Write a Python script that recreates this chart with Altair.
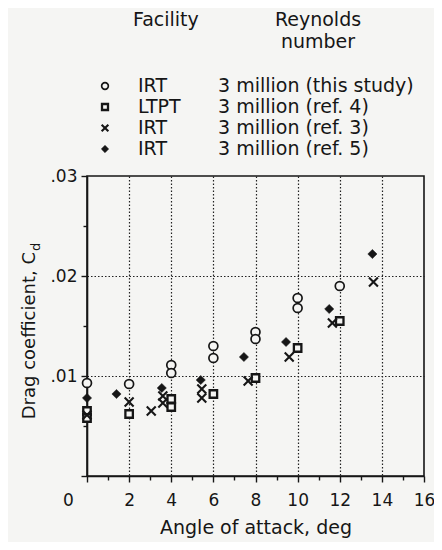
import altair as alt
import pandas as pd

# ---------------- data ----------------
series_names = ["IRT this study", "LTPT ref 4", "IRT ref 3", "IRT ref 5"]
facility_labels = ["IRT", "LTPT", "IRT", "IRT"]
reynolds_labels = ["3 million (this study)", "3 million (ref. 4)",
                   "3 million (ref. 3)", "3 million (ref. 5)"]
header_facility = "Facility"
header_reynolds = ["Reynolds", "number"]
x_title = "Angle of attack, deg"
y_title_main = "Drag coefficient, C"
y_title_sub = "d"

circle_alpha = [0, 2, 4, 4, 6, 6, 8, 8, 10, 10, 12]
circle_cd = [0.0093, 0.0092, 0.0111, 0.0103, 0.0130, 0.0118, 0.0144, 0.0137, 0.0178, 0.0168, 0.0190]
square_alpha = [0, 0, 2, 4, 4, 6, 8, 10, 12]
square_cd = [0.0065, 0.0058, 0.0062, 0.0077, 0.0069, 0.0082, 0.0098, 0.0128, 0.0155]
cross_alpha = [0, 2, 3.05, 3.6, 3.6, 5.45, 5.45, 7.65, 9.6, 11.65, 13.6]
cross_cd = [0.0061, 0.0074, 0.0065, 0.0080, 0.0073, 0.0087, 0.0078, 0.0095, 0.0119, 0.0153, 0.0194]
diamond_alpha = [0, 1.4, 3.55, 5.4, 7.45, 9.45, 11.5, 13.55]
diamond_cd = [0.0078, 0.0082, 0.0088, 0.0096, 0.0119, 0.0134, 0.0167, 0.0222]

x_tick_values = list(range(0, 17))
y_tick_values = [0, 0.005, 0.01, 0.015, 0.02, 0.025, 0.03]

# ---------------- tables ----------------
rows = []
for name, al, cd in zip(series_names,
                        [circle_alpha, square_alpha, cross_alpha, diamond_alpha],
                        [circle_cd, square_cd, cross_cd, diamond_cd]):
    rows += [{"series": name, "alpha": a, "cd": c} for a, c in zip(al, cd)]
df = pd.DataFrame(rows)
leg = pd.DataFrame({"series": series_names, "facility": facility_labels,
                    "reynolds": reynolds_labels})

# ---------------- style ----------------
FONT = "DejaVu Sans"
INK = "#161616"
BG = "#f5f5f3"
XPATH = "M-1,-1L1,1M1,-1L-1,1"

x_axis = alt.Axis(
    values=x_tick_values, title=x_title,
    labelExpr="datum.value % 2 == 0 ? datum.label : ''",
    labelOverlap=False, labelFlush=False,
    labelOffset={"condition": {"test": "datum.value == 0", "value": -19}, "value": 0},
    tickSize={"condition": {"test": "datum.value % 2 == 1", "value": 4}, "value": 6},
    grid=True,
    gridOpacity={"condition": {"test": "datum.value % 2 == 1 || datum.value == 0 || datum.value == 16",
                               "value": 0}, "value": 1},
    gridDash=[1.5, 2], gridColor="#222", gridWidth=1.2,
    domainColor=INK, domainWidth=1.6, tickColor=INK, tickWidth=1.4,
    labelFont=FONT, labelFontSize=17, labelColor=INK, labelPadding=10,
    titleFont=FONT, titleFontSize=19, titleFontWeight="normal", titleColor=INK, titlePadding=10,
)
y_axis = alt.Axis(
    values=y_tick_values, title=None, format=".2f",
    labelExpr="(datum.value == 0.01 || datum.value == 0.02 || datum.value == 0.03) ? replace(datum.label, '0.', '.') : ''",
    labelOverlap=False, labelFlush=False,
    tickSize={"condition": {"test": "datum.value == 0.005 || datum.value == 0.015 || datum.value == 0.025",
                            "value": 4}, "value": 6},
    grid=True,
    gridOpacity={"condition": {"test": "datum.value == 0.01 || datum.value == 0.02", "value": 1}, "value": 0},
    gridDash=[1.5, 2], gridColor="#222", gridWidth=1.2,
    domainColor=INK, domainWidth=1.6, tickColor=INK, tickWidth=1.4,
    labelFont=FONT, labelFontSize=17, labelColor=INK, labelPadding=4,
)
x_enc = alt.X("alpha:Q", scale=alt.Scale(domain=[0, 16], nice=False, zero=False), axis=x_axis)
y_enc = alt.Y("cd:Q", scale=alt.Scale(domain=[0, 0.03], nice=False), axis=y_axis)

styles = {
    series_names[0]: dict(shape="circle", size=80, filled=True, fill=BG, stroke=INK, strokeWidth=1.7),
    series_names[1]: dict(shape="square", size=56, filled=True, fill=BG, stroke=INK, strokeWidth=2.3),
    series_names[2]: dict(shape=XPATH, size=80, filled=False, stroke=INK, strokeWidth=2.1),
    series_names[3]: dict(shape="diamond", size=85, filled=True, fill=INK, stroke=INK, strokeWidth=0.5),
}
legend_sizes = {series_names[0]: 45, series_names[1]: 36, series_names[2]: 45, series_names[3]: 55}

data_layers = []
for name in series_names:
    data_layers.append(
        alt.Chart(df).transform_filter(alt.datum.series == name)
        .mark_point(opacity=1, **styles[name])
        .encode(x=x_enc, y=y_enc)
    )
data_part = alt.layer(*data_layers)

y_leg = alt.Y("series:N", scale=alt.Scale(type="point", domain=series_names, range=[-90, -27], padding=0),
              axis=None)
legend_layers = []
for name in series_names:
    st = dict(styles[name])
    st["size"] = legend_sizes[name]
    legend_layers.append(
        alt.Chart(leg).transform_filter(alt.datum.series == name)
        .mark_point(opacity=1, **st)
        .encode(x=alt.value(18), y=y_leg)
    )
text_style = dict(font=FONT, fontSize=19, color=INK, baseline="middle")
legend_layers.append(
    alt.Chart(leg).mark_text(align="left", **text_style)
    .encode(x=alt.value(51), y=y_leg, text="facility:N"))
legend_layers.append(
    alt.Chart(leg).mark_text(align="left", **text_style)
    .encode(x=alt.value(131), y=y_leg, text="reynolds:N"))
legend_layers.append(
    alt.Chart(pd.DataFrame({"t": [header_facility]})).mark_text(align="left", **text_style)
    .encode(x=alt.value(46), y=alt.value(-156), text="t:N"))
legend_layers.append(
    alt.Chart(pd.DataFrame({"t": [header_reynolds[0]]})).mark_text(align="center", **text_style)
    .encode(x=alt.value(231), y=alt.value(-156), text="t:N"))
legend_layers.append(
    alt.Chart(pd.DataFrame({"t": [header_reynolds[1]]})).mark_text(align="center", **text_style)
    .encode(x=alt.value(231), y=alt.value(-134), text="t:N"))
# y axis title with subscript
legend_layers.append(
    alt.Chart(pd.DataFrame({"t": [y_title_main]})).mark_text(
        align="right", angle=270, font=FONT, fontSize=18, color=INK, baseline="middle")
    .encode(x=alt.value(-57), y=alt.value(76), text="t:N"))
legend_layers.append(
    alt.Chart(pd.DataFrame({"t": [y_title_sub]})).mark_text(
        align="left", angle=270, font=FONT, fontSize=13, color=INK, baseline="middle")
    .encode(x=alt.value(-51), y=alt.value(75), text="t:N"))
legend_part = alt.layer(*legend_layers)

chart = (
    alt.layer(data_part, legend_part)
    .resolve_scale(y="independent")
    .properties(width=337, height=300,
                padding={"left": 79, "top": 168, "right": 10, "bottom": 66},
                autosize=alt.AutoSizeParams(type="none"))
    .configure(background=BG)
    .configure_view(stroke=INK, strokeWidth=1.6)
)

chart.save("out.html", embed_options={"renderer": "svg", "actions": False})
